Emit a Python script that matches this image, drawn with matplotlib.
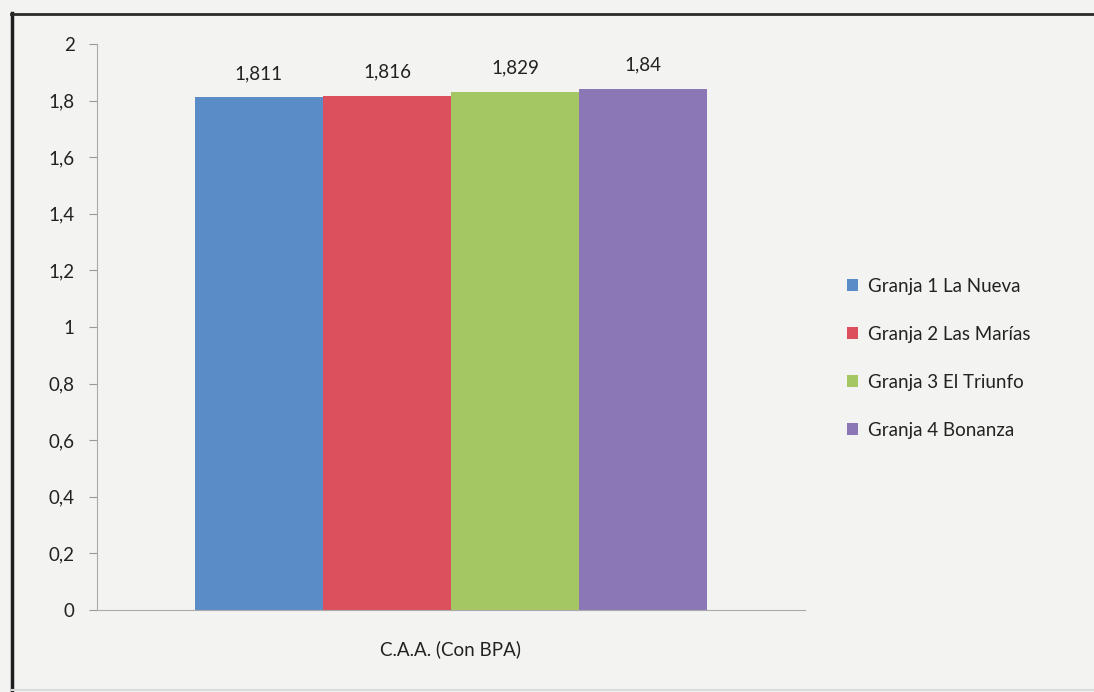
import matplotlib
matplotlib.use("Agg")
import matplotlib.pyplot as plt
from matplotlib.lines import Line2D

category = "C.A.A. (Con BPA)"
series = ["Granja 1 La Nueva", "Granja 2 Las Marías", "Granja 3 El Triunfo", "Granja 4 Bonanza"]
values = [1.811, 1.816, 1.829, 1.84]
value_labels = ["1,811", "1,816", "1,829", "1,84"]
yticks = [0, 0.2, 0.4, 0.6, 0.8, 1, 1.2, 1.4, 1.6, 1.8, 2]
ytick_labels = ["0", "0,2", "0,4", "0,6", "0,8", "1", "1,2", "1,4", "1,6", "1,8", "2"]
colors = ["#5a8dc8", "#dc4f5c", "#a5c763", "#8c77b6"]

plt.rcParams['font.family'] = ['Lato', 'DejaVu Sans']
W, H = 1094, 692
fig = plt.figure(figsize=(W/100, H/100), dpi=100)
bg = "#f3f3f2"
fig.patch.set_facecolor(bg)

# outer frame: dark top and left, light bottom
fig.add_artist(Line2D([12/W, 12/W], [0, 1 - 13/H], transform=fig.transFigure,
                      color="#1e1e1e", linewidth=2.5))
fig.add_artist(Line2D([11/W, 1], [1 - 14/H, 1 - 14/H], transform=fig.transFigure,
                      color="#2a2a2a", linewidth=2.0))
fig.add_artist(Line2D([12/W, 1], [1 - 690/H, 1 - 690/H], transform=fig.transFigure,
                      color="#d8dcdc", linewidth=1.5))

ax = fig.add_axes([97/W, 1 - 610/H, (805-97)/W, (610-44)/H])
ax.set_facecolor(bg)
bw = 0.1808
n = len(series)
for i, (s, v, c, lab) in enumerate(zip(series, values, colors, value_labels)):
    x = (i - (n-1)/2) * bw
    ax.bar(x, v, width=bw, color=c, label=s, edgecolor='none')
    ax.text(x, v + 0.055, lab, ha='center', va='bottom', fontsize=13.5, color="#222222")

ax.set_xlim(-0.5, 0.5)
ax.set_ylim(0, 2)
ax.set_yticks(yticks)
ax.set_yticklabels(ytick_labels, fontsize=13.5, color="#222222")
ax.set_xticks([0])
ax.set_xticklabels([category], fontsize=13.5, color="#222222")
ax.tick_params(axis='x', length=0, pad=22)
ax.tick_params(axis='y', length=6, color="#999999", pad=10)
for sp in ['top', 'right']:
    ax.spines[sp].set_visible(False)
ax.spines['left'].set_color("#aaaaaa")
ax.spines['bottom'].set_color("#aaaaaa")

leg = fig.legend(loc='upper left', bbox_to_anchor=(830/W, 1 - 261/H), frameon=False,
                 fontsize=13.5, handlelength=0.6, handleheight=0.6, handletextpad=0.5,
                 labelspacing=1.65)
for t in leg.get_texts():
    t.set_color("#222222")

fig.savefig("out.png", dpi=100, facecolor=fig.get_facecolor())
